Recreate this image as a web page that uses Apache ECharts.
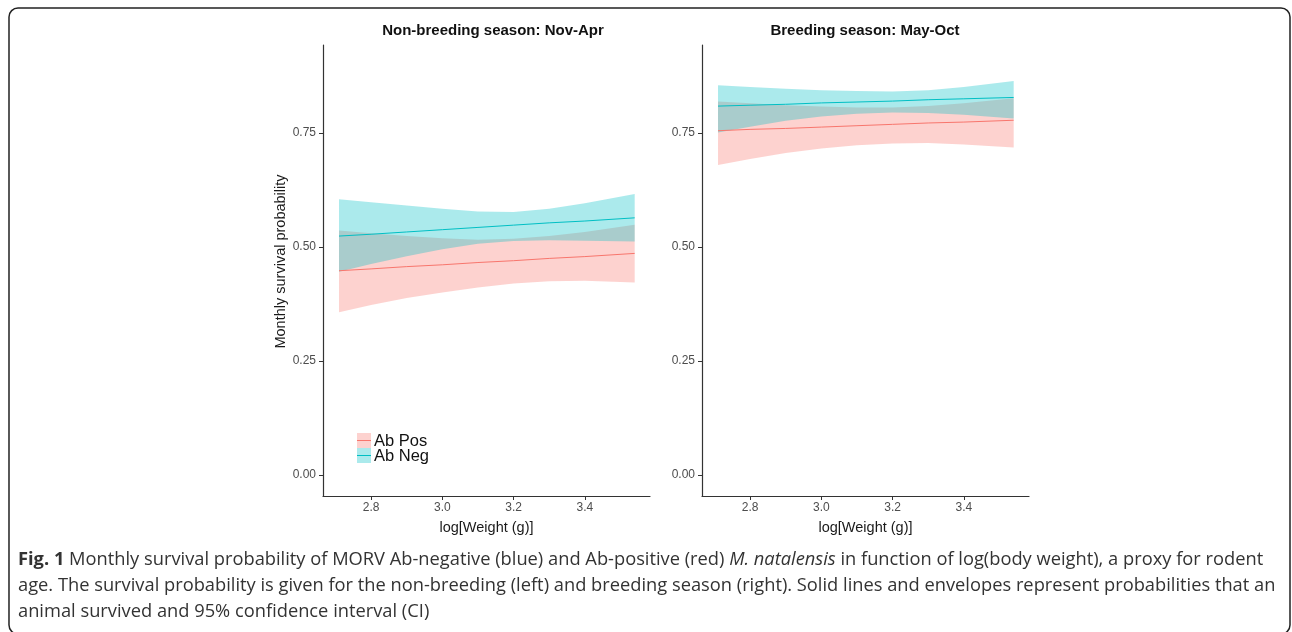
<!DOCTYPE html>
<html>
<head>
<meta charset="utf-8">
<script src="https://cdn.jsdelivr.net/npm/echarts@6/dist/echarts.min.js"></script>
<style>
html,body{margin:0;padding:0;background:#fff;}
#chart{width:1292px;height:632px;}
</style>
</head>
<body>
<div id="chart"></div>
<script>
// ---- data ----
const logWeight = [2.71, 2.8, 2.9, 3.0, 3.1, 3.2, 3.3, 3.4, 3.54];
const xTicks = [2.8, 3.0, 3.2, 3.4];
const yTicks = [0, 0.25, 0.5, 0.75];
const panelTitles = ['Non-breeding season: Nov-Apr', 'Breeding season: May-Oct'];
const legendNames = ['Ab Pos', 'Ab Neg'];

// Non-breeding season
const nbNegFit = [0.524, 0.528, 0.533, 0.538, 0.543, 0.548, 0.553, 0.557, 0.564];
const nbNegHi  = [0.605, 0.598, 0.591, 0.584, 0.578, 0.577, 0.584, 0.596, 0.616];
const nbNegLo  = [0.446, 0.463, 0.480, 0.495, 0.507, 0.513, 0.515, 0.514, 0.512];
const nbPosFit = [0.448, 0.452, 0.457, 0.461, 0.466, 0.470, 0.475, 0.479, 0.486];
const nbPosHi  = [0.536, 0.530, 0.524, 0.519, 0.516, 0.518, 0.524, 0.533, 0.549];
const nbPosLo  = [0.357, 0.373, 0.388, 0.400, 0.411, 0.420, 0.425, 0.426, 0.422];

// Breeding season
const brNegFit = [0.809, 0.811, 0.813, 0.816, 0.818, 0.820, 0.823, 0.825, 0.828];
const brNegHi  = [0.855, 0.851, 0.847, 0.844, 0.842, 0.841, 0.844, 0.851, 0.864];
const brNegLo  = [0.751, 0.764, 0.777, 0.786, 0.792, 0.795, 0.794, 0.790, 0.782];
const brPosFit = [0.755, 0.758, 0.760, 0.763, 0.766, 0.769, 0.772, 0.774, 0.778];
const brPosHi  = [0.819, 0.815, 0.811, 0.808, 0.806, 0.806, 0.809, 0.815, 0.826];
const brPosLo  = [0.680, 0.693, 0.706, 0.716, 0.723, 0.727, 0.728, 0.725, 0.718];

// ---- styles ----
const RED = '#F8766D', CYAN = '#00BFC4';
const RED_FILL = 'rgba(248,118,109,0.33)', CYAN_FILL = 'rgba(0,191,196,0.33)';
const AXIS_COLOR = '#333333', LABEL_COLOR = '#4D4D4D';
const FONT = '"Liberation Sans", Arial, sans-serif';

function band(idx, lo, hi, fill, z) {
  return {
    type: 'custom', xAxisIndex: idx, yAxisIndex: idx, silent: true, z: z,
    data: [[logWeight[0], hi[0]]],
    renderItem: function (params, api) {
      const up = logWeight.map((x, i) => api.coord([x, hi[i]]));
      const dn = logWeight.map((x, i) => api.coord([x, lo[i]])).reverse();
      return { type: 'polygon', shape: { points: up.concat(dn) }, style: { fill: fill } };
    }
  };
}
function fitLine(idx, name, fit, color) {
  return {
    type: 'line', name: name, xAxisIndex: idx, yAxisIndex: idx, z: 5,
    data: logWeight.map((x, i) => [x, fit[i]]),
    showSymbol: false, silent: true,
    lineStyle: { color: color, width: 1 }, itemStyle: { color: color }
  };
}
function xAx(idx) {
  return {
    type: 'value', gridIndex: idx, min: 2.665, max: 3.583,
    name: 'log[Weight (g)]', nameLocation: 'middle', nameGap: 24,
    nameTextStyle: { fontFamily: FONT, fontSize: 14.5, color: '#1a1a1a' },
    splitLine: { show: false },
    axisLine: { onZero: false, lineStyle: { color: AXIS_COLOR, width: 1.2 } },
    axisTick: { customValues: xTicks, length: 4, lineStyle: { color: AXIS_COLOR } },
    axisLabel: { customValues: xTicks, formatter: v => v.toFixed(1), color: LABEL_COLOR,
                 fontFamily: FONT, fontSize: 12, margin: 6 }
  };
}
function yAx(idx, withName) {
  return {
    type: 'value', gridIndex: idx, min: -0.046, max: 0.943,
    name: withName ? 'Monthly survival probability' : '', nameLocation: 'middle', nameGap: 35,
    nameTextStyle: { fontFamily: FONT, fontSize: 14.5, color: '#1a1a1a', padding: [0, 0, 0, 18] },
    splitLine: { show: false },
    axisLine: { onZero: false, lineStyle: { color: AXIS_COLOR, width: 1.2 } },
    axisTick: { customValues: yTicks, length: 4, lineStyle: { color: AXIS_COLOR } },
    axisLabel: { customValues: yTicks, formatter: v => v.toFixed(2), color: LABEL_COLOR,
                 fontFamily: FONT, fontSize: 12, margin: 7 }
  };
}

const CAP_FONT = '"Open Sans", "Noto Sans", sans-serif';
const CAP_SIZE = 18.3;
function capLine(y, text) {
  return {
    type: 'text', left: 18, top: y,
    style: {
      text: text, fontFamily: CAP_FONT, fontSize: CAP_SIZE, fill: '#333',
      rich: {
        b: { fontFamily: CAP_FONT, fontSize: CAP_SIZE, fontWeight: 'bold', fill: '#333' },
        i: { fontFamily: CAP_FONT, fontSize: CAP_SIZE, fontStyle: 'italic', fill: '#333' }
      }
    }
  };
}

const chart = echarts.init(document.getElementById('chart'), null, { renderer: 'canvas' });
chart.setOption({
  animation: false,
  backgroundColor: '#fff',
  grid: [
    { left: 323, top: 45, width: 327, height: 451 },
    { left: 702, top: 45, width: 327, height: 451 }
  ],
  xAxis: [xAx(0), xAx(1)],
  yAxis: [yAx(0, true), yAx(1, false)],
  series: [
    band(0, nbPosLo, nbPosHi, RED_FILL, 1),
    band(0, nbNegLo, nbNegHi, CYAN_FILL, 2),
    fitLine(0, legendNames[0], nbPosFit, RED),
    fitLine(0, legendNames[1], nbNegFit, CYAN),
    band(1, brPosLo, brPosHi, RED_FILL, 1),
    band(1, brNegLo, brNegHi, CYAN_FILL, 2),
    fitLine(1, legendNames[0], brPosFit, RED),
    fitLine(1, legendNames[1], brNegFit, CYAN)
  ],
  graphic: [
    { type: 'rect', shape: { x: 9, y: 8, width: 1281, height: 626, r: 9 },
      style: { fill: 'none', stroke: '#222', lineWidth: 1.5 }, silent: true },
    { type: 'text', x: 493, y: 31, style: { text: panelTitles[0], fontFamily: FONT, fontSize: 15, fontWeight: 'bold',
      fill: '#111', align: 'center', verticalAlign: 'middle' } },
    { type: 'text', x: 865, y: 31, style: { text: panelTitles[1], fontFamily: FONT, fontSize: 15, fontWeight: 'bold',
      fill: '#111', align: 'center', verticalAlign: 'middle' } },
    // legend keys
    { type: 'rect', shape: { x: 357, y: 433, width: 14, height: 15 }, style: { fill: RED_FILL } },
    { type: 'line', shape: { x1: 357, y1: 440.5, x2: 371, y2: 440.5 }, style: { stroke: RED, lineWidth: 1 } },
    { type: 'rect', shape: { x: 357, y: 448, width: 14, height: 15 }, style: { fill: CYAN_FILL } },
    { type: 'line', shape: { x1: 357, y1: 455.5, x2: 371, y2: 455.5 }, style: { stroke: CYAN, lineWidth: 1 } },
    { type: 'text', x: 374, y: 441, style: { text: legendNames[0], fontFamily: FONT, fontSize: 16.5, fill: '#111', verticalAlign: 'middle' } },
    { type: 'text', x: 374, y: 456, style: { text: legendNames[1], fontFamily: FONT, fontSize: 16.5, fill: '#111', verticalAlign: 'middle' } },
    capLine(551, '{b|Fig. 1} Monthly survival probability of MORV Ab-negative (blue) and Ab-positive (red) {i|M. natalensis} in function of log(body weight), a proxy for rodent'),
    capLine(577, 'age. The survival probability is given for the non-breeding (left) and breeding season (right). Solid lines and envelopes represent probabilities that an'),
    capLine(603, 'animal survived and 95% confidence interval (CI)')
  ]
});
</script>
</body>
</html>
